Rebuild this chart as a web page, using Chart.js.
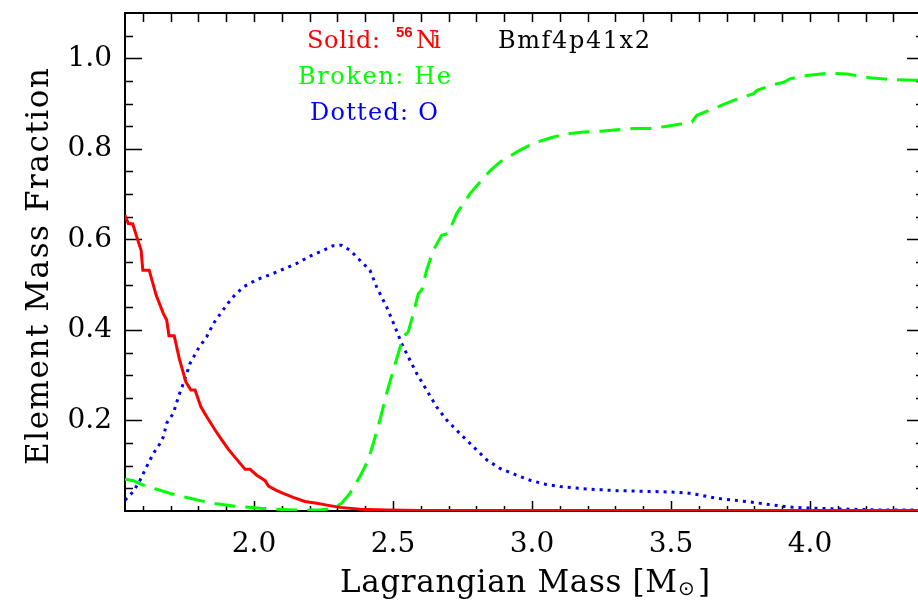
<!DOCTYPE html>
<html lang="en">
<head>
<meta charset="UTF-8">
<title>Bmf4p41x2 - Element Mass Fraction</title>
<script src="https://cdn.jsdelivr.net/npm/chart.js"></script>
<style>
    html, body { margin: 0; padding: 0; background: #fff; overflow: hidden; }
    #wrap { width: 926px; height: 604px; }
</style>
</head>
<body>
<div id="wrap"><canvas id="myChart" width="926" height="604"></canvas></div>
<script>
// 56Ni (solid red)
var niMass = [1.536, 1.548, 1.564, 1.578, 1.594, 1.600, 1.623, 1.648, 1.674, 1.686, 1.694, 1.713, 1.731, 1.755,
    1.773, 1.788, 1.809, 1.830, 1.860, 1.884, 1.908, 1.938, 1.968, 1.986, 2.010, 2.040, 2.052, 2.082, 2.105,
    2.141, 2.183, 2.226, 2.262, 2.310, 2.381, 2.477, 2.600, 3.000, 3.500, 4.000, 4.410];
var niFrac = [0.653, 0.635, 0.634, 0.606, 0.576, 0.532, 0.532, 0.477, 0.436, 0.422, 0.387, 0.387, 0.337, 0.285,
    0.267, 0.267, 0.230, 0.208, 0.179, 0.157, 0.136, 0.114, 0.092, 0.092, 0.079, 0.067, 0.055, 0.045, 0.039,
    0.030, 0.021, 0.017, 0.013, 0.008, 0.004, 0.002, 0.001, 0.001, 0.001, 0.001, 0.001];

// He (broken green)
var heMass = [1.536, 1.566, 1.602, 1.650, 1.698, 1.770, 1.842, 1.926, 2.022, 2.141, 2.237, 2.285, 2.315, 2.345,
    2.381, 2.411, 2.429, 2.453, 2.477, 2.501, 2.519, 2.537, 2.555, 2.573, 2.591, 2.603, 2.621, 2.645, 2.675,
    2.699, 2.729, 2.777, 2.819, 2.850, 2.885, 2.957, 3.005, 3.065, 3.113, 3.185, 3.245, 3.365, 3.437, 3.485,
    3.575, 3.593, 3.653, 3.725, 3.797, 3.809, 3.869, 3.905, 3.929, 3.989, 4.061, 4.133, 4.216, 4.288, 4.410];
var heFrac = [0.070, 0.067, 0.057, 0.048, 0.039, 0.028, 0.018, 0.011, 0.006, 0.002, 0.002, 0.006, 0.017, 0.039,
    0.076, 0.113, 0.149, 0.201, 0.260, 0.311, 0.348, 0.385, 0.396, 0.436, 0.480, 0.488, 0.532, 0.576, 0.609,
    0.613, 0.657, 0.701, 0.731, 0.752, 0.771, 0.797, 0.812, 0.824, 0.832, 0.837, 0.839, 0.845, 0.845, 0.850,
    0.859, 0.874, 0.889, 0.907, 0.922, 0.929, 0.942, 0.947, 0.955, 0.962, 0.967, 0.965, 0.957, 0.953, 0.951];

// O (dotted blue)
var oMass = [1.536, 1.566, 1.590, 1.614, 1.638, 1.662, 1.674, 1.686, 1.710, 1.728, 1.746, 1.770, 1.800, 1.830,
    1.854, 1.884, 1.920, 1.962, 2.010, 2.058, 2.105, 2.154, 2.202, 2.250, 2.285, 2.315, 2.345, 2.381, 2.417,
    2.441, 2.477, 2.507, 2.531, 2.561, 2.585, 2.621, 2.657, 2.693, 2.741, 2.789, 2.837, 2.885, 2.945, 2.993,
    3.041, 3.101, 3.185, 3.305, 3.437, 3.497, 3.557, 3.605, 3.665, 3.725, 3.797, 3.868, 3.940, 4.024, 4.144,
    4.264, 4.410];
var oFrac = [0.024, 0.043, 0.068, 0.098, 0.127, 0.149, 0.164, 0.194, 0.216, 0.252, 0.282, 0.326, 0.359, 0.385,
    0.414, 0.440, 0.470, 0.495, 0.511, 0.522, 0.534, 0.547, 0.563, 0.576, 0.586, 0.587, 0.576, 0.554, 0.532,
    0.495, 0.451, 0.407, 0.370, 0.333, 0.304, 0.267, 0.230, 0.201, 0.171, 0.142, 0.113, 0.094, 0.079, 0.068,
    0.060, 0.054, 0.049, 0.045, 0.043, 0.042, 0.040, 0.035, 0.028, 0.024, 0.019, 0.013, 0.008, 0.006, 0.004,
    0.002, 0.002];

var xTicks = [2.0, 2.5, 3.0, 3.5, 4.0];
var yTicks = [0.2, 0.4, 0.6, 0.8, 1.0];

var serif = '"DejaVu Serif", serif';

function pts(xs, ys) {
    return xs.map(function (x, i) { return { x: x, y: ys[i] }; });
}

// draws text char by char, spread to a given width (the IDL fonts are wider spaced)
function spacedText(ctx, text, left, base, width, font, color) {
    ctx.font = font;
    ctx.fillStyle = color;
    ctx.textAlign = 'left';
    ctx.textBaseline = 'alphabetic';
    var chars = Array.from(text);
    var natural = 0;
    chars.forEach(function (c) { natural += ctx.measureText(c).width; });
    var gap = chars.length > 1 ? (width - natural) / (chars.length - 1) : 0;
    var x = left;
    chars.forEach(function (c) {
        ctx.fillText(c, x, base);
        x += ctx.measureText(c).width + gap;
    });
}

function noPad(s) {
    s.paddingTop = 0;
    s.paddingBottom = 0;
    s.paddingLeft = 0;
    s.paddingRight = 0;
}

var idlFrame = {
    id: 'idlFrame',
    beforeDatasetsDraw: function (chart) {
        var ctx = chart.ctx, a = chart.chartArea;
        var xs = chart.scales.x, ys = chart.scales.y;
        ctx.save();
        ctx.strokeStyle = '#000';
        ctx.lineWidth = 2;
        ctx.strokeRect(a.left, a.top, a.right - a.left, a.bottom - a.top);
        ctx.beginPath();
        // y ticks, inward on both sides
        for (var i = 1; i <= 21; i++) {
            var v = i * 0.05;
            var major = i % 4 === 0;
            var py = Math.round(ys.getPixelForValue(v)) + 0.5;
            var len = major ? 17 : 8;
            ctx.moveTo(a.left, py); ctx.lineTo(a.left + len, py);
            ctx.moveTo(a.right, py); ctx.lineTo(a.right - len, py);
        }
        // x ticks
        for (var j = 16; j <= 44; j++) {
            var xv = j / 10;
            var maj = j % 5 === 0;
            var px = Math.round(xs.getPixelForValue(xv)) + 0.5;
            ctx.moveTo(px, a.bottom); ctx.lineTo(px, a.bottom - (maj ? 10 : 5));
            ctx.moveTo(px, a.top); ctx.lineTo(px, a.top + 9);
        }
        ctx.lineWidth = 1.5;
        ctx.stroke();
        ctx.restore();
    },
    afterDraw: function (chart) {
        var ctx = chart.ctx;
        ctx.save();
        // x title
        spacedText(ctx, 'Lagrangian Mass [M', 340, 592, 337, '31px ' + serif, '#000');
        ctx.font = '20px "DejaVu Sans"';
        ctx.fillText('\u2299', 678, 595);
        ctx.font = '31px ' + serif;
        ctx.fillText(']', 698, 592);
        // y title
        ctx.save();
        ctx.translate(48, 465);
        ctx.rotate(-Math.PI / 2);
        spacedText(ctx, 'Element Mass Fraction', 0, 0, 397, '31px ' + serif, '#000');
        ctx.restore();
        // labels
        spacedText(ctx, 'Solid:', 307, 48, 73, '24px ' + serif, '#ff0000');
        ctx.font = 'bold 15px "Liberation Sans", sans-serif';
        ctx.fillText('56', 396, 37);
        spacedText(ctx, 'Ni', 416, 48, 25, '24px ' + serif, '#ff0000');
        spacedText(ctx, 'Broken: He', 298, 84, 153, '24px ' + serif, '#00ff00');
        spacedText(ctx, 'Dotted: O', 310, 120, 128, '24px ' + serif, '#0000ff');
        spacedText(ctx, 'Bmf4p41x2', 498, 48, 152, '24px ' + serif, '#000');
        ctx.restore();
    }
};

var ctx = document.getElementById('myChart').getContext('2d');
var myChart = new Chart(ctx, {
    type: 'line',
    data: {
        datasets: [
            {
                label: '56Ni',
                data: pts(niMass, niFrac),
                borderColor: '#ff0000',
                borderWidth: 3,
                pointRadius: 0,
                tension: 0,
                fill: false,
            },
            {
                label: 'He',
                data: pts(heMass, heFrac),
                borderColor: '#00ff00',
                borderWidth: 3,
                borderDash: [21, 10],
                pointRadius: 0,
                tension: 0,
                fill: false,
            },
            {
                label: 'O',
                data: pts(oMass, oFrac),
                borderColor: '#0000ff',
                borderWidth: 3,
                borderDash: [3, 5],
                pointRadius: 0,
                tension: 0,
                fill: false,
            },
        ],
    },
    options: {
        responsive: false,
        animation: false,
        devicePixelRatio: 1,
        layout: { padding: { top: 13, right: 2, bottom: 0, left: 0 }, autoPadding: false },
        plugins: { legend: { display: false }, tooltip: { enabled: false } },
        scales: {
            x: {
                type: 'linear',
                min: 1.536,
                max: 4.41,
                grid: { display: false, drawTicks: false },
                border: { display: false },
                afterBuildTicks: function (s) { s.ticks = xTicks.map(function (v) { return { value: v }; }); },
                afterFit: function (s) { s.height = 93; noPad(s); },
                ticks: {
                    padding: 17,
                    autoSkip: false,
                    maxRotation: 0,
                    color: '#000',
                    font: { family: serif, size: 28 },
                    callback: function (v) { return v.toFixed(1); },
                },
            },
            y: {
                type: 'linear',
                min: 0,
                max: 1.1,
                grid: { display: false, drawTicks: false },
                border: { display: false },
                afterBuildTicks: function (s) { s.ticks = yTicks.map(function (v) { return { value: v }; }); },
                afterFit: function (s) { s.width = 125; noPad(s); },
                ticks: {
                    padding: 13,
                    color: '#000',
                    font: { family: serif, size: 28 },
                    callback: function (v) { return v.toFixed(1); },
                },
            },
        },
    },
    plugins: [idlFrame],
});
</script>
</body>
</html>
